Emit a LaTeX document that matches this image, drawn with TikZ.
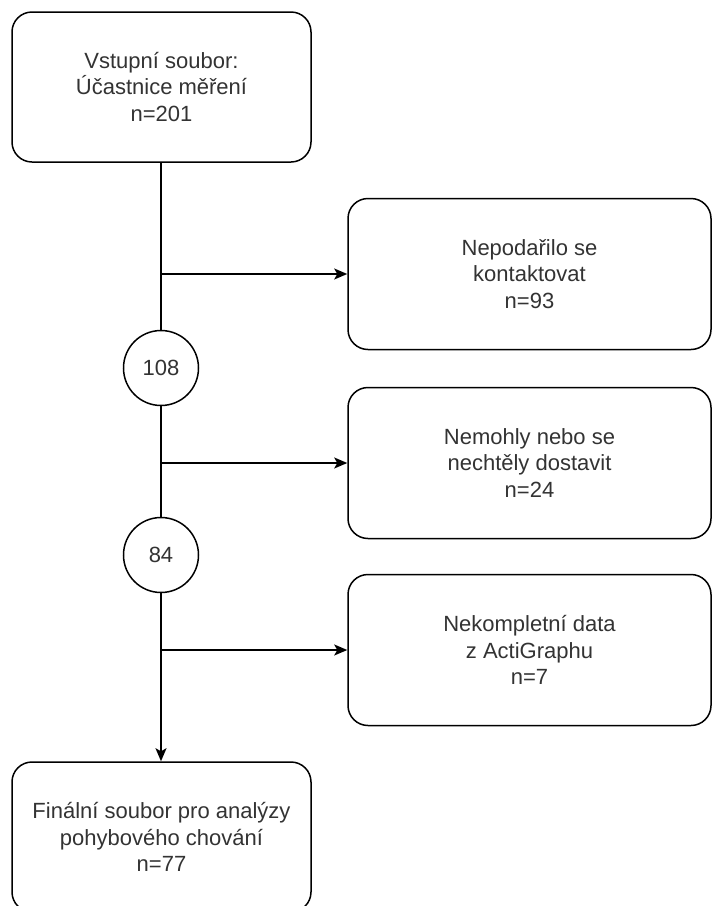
\documentclass[tikz,border=0pt]{standalone}
\usepackage{fontspec}
\setmainfont{Liberation Sans}
\usetikzlibrary{arrows.meta}
\definecolor{txt}{HTML}{333333}
\tikzset{
  box/.style={draw=black, line width=1.5pt, rounded corners=20pt, align=center,
    text=txt, font=\fontsize{22}{26.5}\selectfont, inner sep=0pt},
  cnt/.style={draw=black, line width=1.5pt, circle, minimum size=75pt, inner sep=0pt,
    text=txt, font=\fontsize{22}{26.5}\selectfont},
  conn/.style={line width=1.5pt, draw=black},
  arr/.style={conn, -{Stealth[length=13pt,width=11pt,inset=3pt]}}
}
\begin{document}
\begin{tikzpicture}[x=1pt,y=-1pt]
\useasboundingbox (0,0) rectangle (712,906);
\clip (0,0) rectangle (712,906);
\fill[white] (0,0) rectangle (712,906);
\node[box, minimum width=299pt, minimum height=150pt] (top) at (161.5,87) {Vstupní soubor:\\Účastnice měření\\n=201};
\node[box, minimum width=363pt, minimum height=151pt] (r1) at (529.5,274) {Nepodařilo se\\kontaktovat\\n=93};
\node[box, minimum width=363pt, minimum height=151pt] (r2) at (529.5,463) {Nemohly nebo se\\nechtěly dostavit\\n=24};
\node[box, minimum width=363pt, minimum height=151pt] (r3) at (529.5,650) {Nekompletní data\\z ActiGraphu\\n=7};
\node[cnt] (c1) at (161,368) {108};
\node[cnt] (c2) at (161,555) {84};
\node[box, minimum width=299pt, minimum height=150pt] (bot) at (161.5,837) {Finální soubor pro analýzy\\pohybového chování\\n=77};
\coordinate (b1) at (161,274);
\coordinate (b2) at (161,463);
\coordinate (b3) at (161,650);
\draw[conn] (top.south -| c1) -- (c1.north);
\draw[conn] (c1.south) -- (c2.north);
\draw[arr] (c2.south) -- (bot.north -| c2);
\draw[arr] (b1) -- (r1.west);
\draw[arr] (b2) -- (r2.west);
\draw[arr] (b3) -- (r3.west);
\end{tikzpicture}
\end{document}
